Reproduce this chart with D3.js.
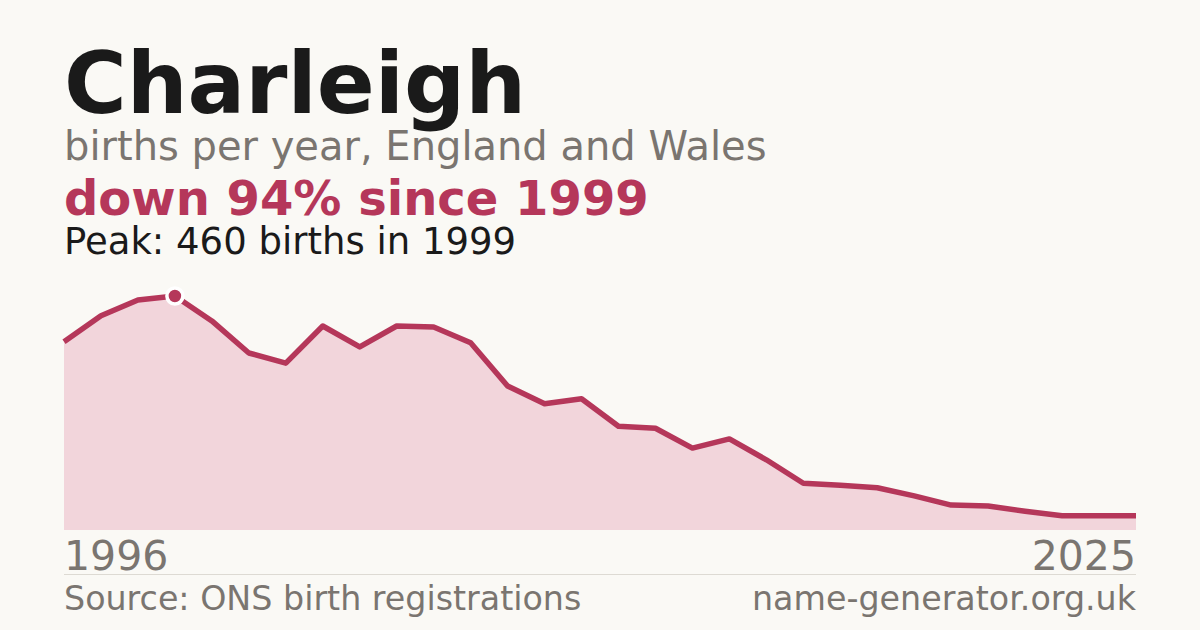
<!DOCTYPE html>
<html><head><meta charset="utf-8">
<script src="https://cdn.jsdelivr.net/npm/d3@7"></script>
<style>
html,body{margin:0;padding:0;background:#faf9f5;}
svg{display:block;font-family:"DejaVu Sans",sans-serif;}
</style></head><body>
<svg id="c" width="1200" height="630"></svg>
<script>
const years = [1996,1997,1998,1999,2000,2001,2002,2003,2004,2005,2006,2007,2008,2009,2010,2011,2012,2013,2014,2015,2016,2017,2018,2019,2020,2021,2022,2023,2024,2025];
const births = [370,421,452,460,411,348,328,401,360,401,399,368,283,248,258,204,200,161,179,138,92,88,83,67,49,47,37,28,28,28];
const titleText = "Charleigh";
const subtitleText = "births per year, England and Wales";
const changeText = "down 94% since 1999";
const peakText = "Peak: 460 births in 1999";
const sourceText = "Source: ONS birth registrations";
const siteText = "name-generator.org.uk";

const svg = d3.select("#c");
svg.append("rect").attr("width",1200).attr("height",630).attr("fill","#faf9f5");

const x = d3.scaleLinear().domain([years[0], years[years.length-1]]).range([64,1136]);
const y = d3.scaleLinear().domain([0, d3.max(births)]).range([530,296]);
const data = years.map((yr,i)=>({yr, v:births[i]}));

svg.append("path").datum(data)
  .attr("d", d3.area().x(d=>x(d.yr)).y0(y(0)).y1(d=>y(d.v)))
  .attr("fill","#f2d5db");
svg.append("path").datum(data)
  .attr("d", d3.line().x(d=>x(d.yr)).y(d=>y(d.v)))
  .attr("fill","none").attr("stroke","#b5375a").attr("stroke-width",5.5)
  .attr("stroke-linejoin","round");

const peakI = d3.maxIndex(births);
svg.append("circle").attr("cx",x(years[peakI])).attr("cy",y(births[peakI])).attr("r",8)
  .attr("fill","#b5375a").attr("stroke","#ffffff").attr("stroke-width",3.5);

svg.append("text").attr("x",64).attr("y",113).attr("font-size",85.5).attr("font-weight","bold")
  .attr("fill","#1a1a1a").text(titleText);
svg.append("text").attr("x",64).attr("y",160).attr("font-size",40)
  .attr("fill","#7a7570").text(subtitleText);
svg.append("text").attr("x",64).attr("y",215).attr("font-size",48).attr("font-weight","bold")
  .attr("fill","#b5375a").text(changeText);
svg.append("text").attr("x",64).attr("y",254).attr("font-size",37)
  .attr("fill","#1a1a1a").text(peakText);

svg.append("text").attr("x",x(years[0])).attr("y",570).attr("font-size",41)
  .attr("fill","#7a7570").text(String(years[0]));
svg.append("text").attr("x",x(years[years.length-1])).attr("y",570).attr("font-size",41)
  .attr("text-anchor","end").attr("fill","#7a7570").text(String(years[years.length-1]));

svg.append("line").attr("x1",64).attr("x2",1136).attr("y1",574.5).attr("y2",574.5)
  .attr("stroke","#dddad3").attr("stroke-width",1);

svg.append("text").attr("x",64).attr("y",610).attr("font-size",33.3)
  .attr("fill","#7a7570").text(sourceText);
svg.append("text").attr("x",1136).attr("y",610).attr("font-size",33.3).attr("text-anchor","end")
  .attr("fill","#7a7570").text(siteText);
</script>
</body></html>
